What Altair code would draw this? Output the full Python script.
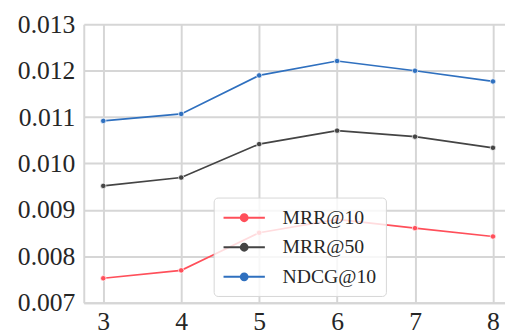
import altair as alt
import pandas as pd

hops = [3, 4, 5, 6, 7, 8]
mrr10 = [0.00753, 0.00770, 0.00851, 0.00880, 0.00861, 0.00843]
mrr50 = [0.00952, 0.00970, 0.01042, 0.01071, 0.01058, 0.01034]
ndcg10 = [0.01092, 0.01107, 0.01190, 0.01221, 0.01200, 0.01177]
series = ["MRR@10", "MRR@50", "NDCG@10"]
colors = ["#ff4f5a", "#444444", "#2f70bf"]
y_ticks = [0.007, 0.008, 0.009, 0.010, 0.011, 0.012, 0.013]

rows = []
for name, vals in zip(series, [mrr10, mrr50, ndcg10]):
    for h, v in zip(hops, vals):
        rows.append({"x": h, "value": v, "metric": name})
df = pd.DataFrame(rows)

FONT = "'Liberation Serif', 'DejaVu Serif', serif"
TXT = "#262626"
GRID = "#d6d6d6"

sym = ("M-1,0L0.67,0A0.33,0.33 0 1,1 1.33,0L3,0L1.33,0"
       "A0.33,0.33 0 1,1 0.67,0Z")

chart = alt.Chart(df).mark_line(
    strokeWidth=1.7,
    clip=True,
    point=alt.OverlayMarkDef(filled=True, size=30, stroke="white", strokeWidth=0.7),
).encode(
    x=alt.X("x:Q", scale=alt.Scale(domain=[2.75, 8.154], nice=False, zero=False),
            axis=alt.Axis(values=hops, title=None, grid=True, ticks=False,
                          labelPadding=6, format="d", labelFont=FONT,
                          labelFontSize=26, labelColor=TXT)),
    y=alt.Y("value:Q", scale=alt.Scale(domain=[0.007, 0.013], nice=False, zero=False),
            axis=alt.Axis(values=y_ticks, title=None, grid=True, ticks=False,
                          labelPadding=9, format=".3f", labelFont=FONT,
                          labelFontSize=26, labelColor=TXT)),
    color=alt.Color("metric:N", scale=alt.Scale(domain=series, range=colors),
                    legend=alt.Legend(title=None, orient="none", legendX=132, legendY=176,
                                      symbolType=sym, symbolSize=441,
                                      symbolStrokeWidth=2, labelFontSize=20,
                                      labelFont=FONT, labelColor=TXT,
                                      fillColor="rgba(255,255,255,0.8)",
                                      strokeColor=GRID, cornerRadius=4,
                                      padding=9, rowPadding=8, labelOffset=38)),
).properties(
    width=428, height=283,
    autosize=alt.AutoSizeParams(type="none"),
    padding={"left": 77, "top": 14, "right": 0, "bottom": 27},
).configure(font=FONT).configure_view(stroke=None).configure_axis(
    gridColor=GRID, gridWidth=2, domainColor=GRID, domainWidth=2,
)

chart.save("out.html", embed_options={"renderer": "svg", "actions": False})
